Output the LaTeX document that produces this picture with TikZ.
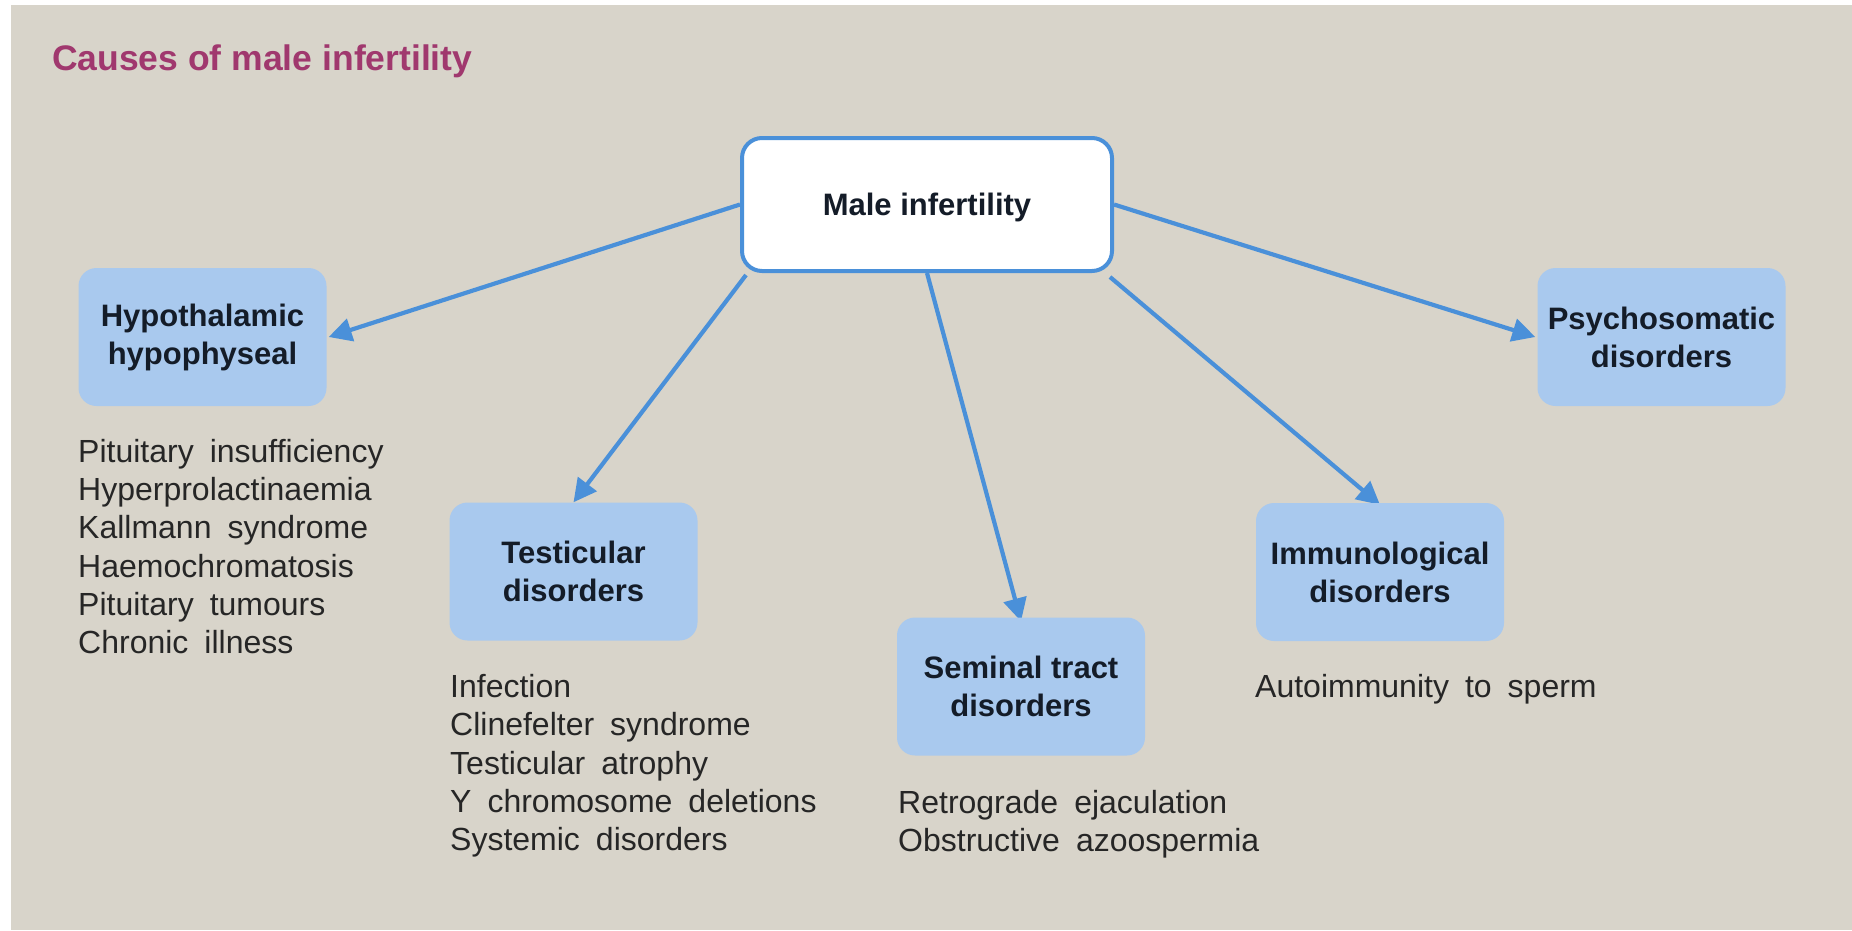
\documentclass[tikz,border=0pt]{standalone}
\usepackage{fontspec}
\setmainfont{Liberation Sans}
\newfontfamily\listfont[WordSpace=1.8]{Liberation Sans}
\usetikzlibrary{arrows.meta,backgrounds}
\definecolor{bg}{HTML}{D8D4CA}
\definecolor{boxblue}{HTML}{A9C9EE}
\definecolor{linkblue}{HTML}{4A90D9}
\definecolor{titlecol}{HTML}{A0386E}
\definecolor{labelcol}{HTML}{141C28}
\definecolor{listcol}{HTML}{262626}
\begin{document}
\begin{tikzpicture}[x=1pt,y=-1pt,
  catbox/.style={fill=boxblue, rounded corners=18pt, minimum width=248pt, minimum height=138pt,
    align=center, inner sep=0pt, text=labelcol, font=\fontsize{31}{38}\selectfont\bfseries},
  mainbox/.style={fill=white, draw=linkblue, line width=4pt, rounded corners=20pt,
    minimum width=370pt, minimum height=133pt, inner sep=0pt, text=labelcol,
    font=\fontsize{31}{38}\selectfont\bfseries},
  itemlist/.style={align=left, anchor=north west, inner sep=0pt, text=listcol,
    font=\listfont\fontsize{32}{38.3}\selectfont},
  link/.style={draw=linkblue, line width=4.2pt, -{Triangle[length=23pt,width=23pt]}},
  titletext/.style={anchor=west, inner sep=0pt, text=titlecol, font=\fontsize{35.5}{40}\selectfont\bfseries}
]
\useasboundingbox (0,0) rectangle (1852,930);
\begin{scope}[on background layer]
  \fill[white] (0,0) rectangle (1852,930);
  \fill[bg] (11,5) rectangle (1852,930);
\end{scope}

\node[titletext] (title) at (52,61) {Causes of male infertility};

\node[mainbox] (male) at (927,204.5) {\raisebox{-3pt}[\height][\depth]{Male infertility}};

\node[catbox] (hypo) at (202.5,337) {Hypothalamic\\hypophyseal};
\node[catbox] (testi) at (573.5,571.5) {Testicular\\disorders};
\node[catbox] (semi) at (1021,686.5) {Seminal tract\\disorders};
\node[catbox] (immu) at (1380,572) {Immunological\\disorders};
\node[catbox] (psyc) at (1661.5,337) {Psychosomatic\\disorders};

\node[itemlist] (hypolist) at (78,439) {Pituitary insufficiency\\Hyperprolactinaemia\\Kallmann syndrome\\Haemochromatosis\\Pituitary tumours\\Chronic illness};
\node[itemlist] (testilist) at (450,674) {Infection\\Clinefelter syndrome\\Testicular atrophy\\Y chromosome deletions\\Systemic disorders};
\node[itemlist] (semilist) at (898,790) {Retrograde ejaculation\\Obstructive azoospermia};
\node[itemlist] (immulist) at (1255,674) {Autoimmunity to sperm};

\begin{scope}[on background layer]
  \draw[link] (male.west) -- ([xshift=2pt]hypo.east);
  \draw[link] ([shift={(6pt,-2pt)}]male.south west) -- (testi.north);
  \draw[link] (male.south) -- ([yshift=-4pt]semi.north);
  \draw[link] ([shift={(-4pt,-4pt)}]male.south east) -- ([yshift=-2pt]immu.north);
  \draw[link] (male.east) -- ([xshift=-2pt]psyc.west);
\end{scope}
\end{tikzpicture}
\end{document}
